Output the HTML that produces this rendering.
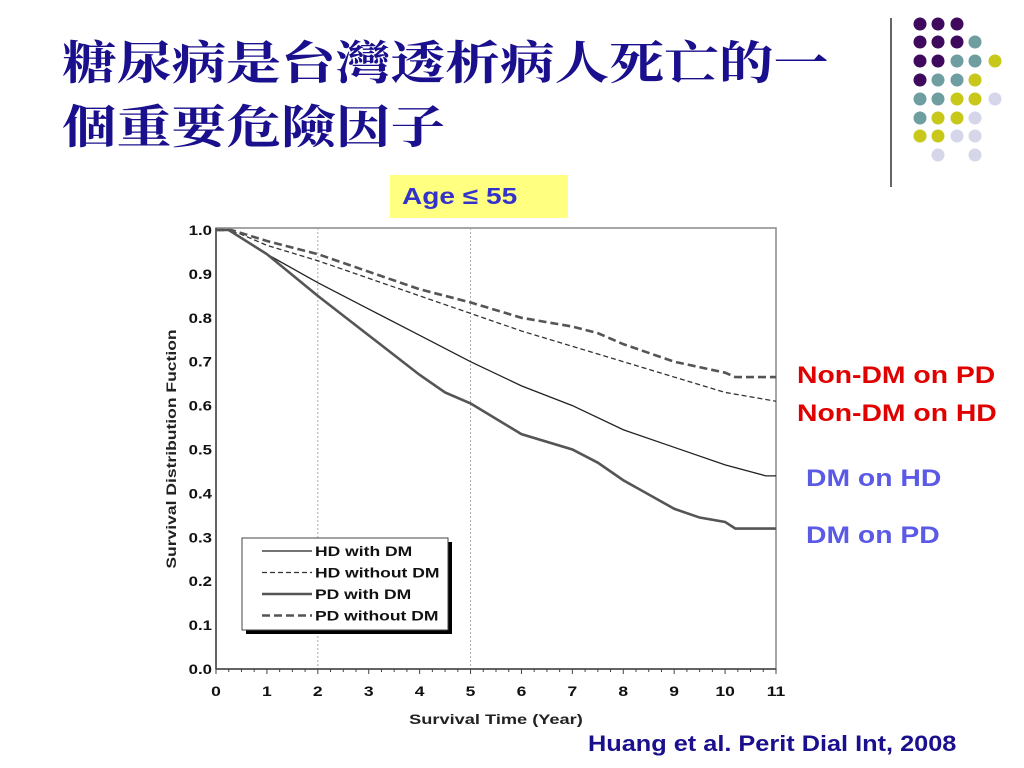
<!DOCTYPE html>
<html><head><meta charset="utf-8"><style>
body{margin:0;width:1024px;height:768px;background:#fff;overflow:hidden;position:relative;font-family:"Liberation Sans","Noto Sans CJK TC",sans-serif}
.t{position:absolute;left:62px;top:32px;font-family:"Liberation Serif","Noto Serif CJK SC",serif;font-size:46px;line-height:64px;color:#1a0f8c;font-weight:bold;transform:scaleX(1.19);transform-origin:0 0;white-space:nowrap}
.lbl{position:absolute;font-weight:bold;font-size:24px;transform:scaleX(1.18);transform-origin:0 0;white-space:nowrap}
</style></head><body>
<div class="t">糖尿病是台灣透析病人死亡的一<br>個重要危險因子</div>
<div style="position:absolute;left:390px;top:175px;width:178px;height:43px;background:#ffff80;"></div>
<div style="position:absolute;left:402px;top:175px;color:#3333cc;font-weight:bold;font-size:23px;line-height:43px;transform:scaleX(1.22);transform-origin:0 0;white-space:nowrap">Age ≤ 55</div>
<div class="lbl" style="left:797px;top:362px;color:#e00000">Non-DM on PD</div>
<div class="lbl" style="left:797px;top:400px;color:#e00000">Non-DM on HD</div>
<div class="lbl" style="left:806px;top:465px;color:#5a5ae6">DM on HD</div>
<div class="lbl" style="left:806px;top:522px;color:#5a5ae6">DM on PD</div>
<div style="position:absolute;left:588px;top:731px;font-weight:bold;font-size:22px;color:#1a0f8c;transform:scaleX(1.15);transform-origin:0 0;white-space:nowrap">Huang et al. Perit Dial Int, 2008</div>
<svg id="deco" width="1024" height="768" style="position:absolute;left:0;top:0">
<line x1="891" y1="18" x2="891" y2="187" stroke="#333" stroke-width="1.5"/>
</svg>
<svg id="chart" width="1024" height="768" style="position:absolute;left:0;top:0"></svg>
<script>
const xTicks=[0,1,2,3,4,5,6,7,8,9,10,11];
const yTicks=[0,0.1,0.2,0.3,0.4,0.5,0.6,0.7,0.8,0.9,1.0];
const hdDmX=[0,0.25,1,2,3,4,5,6,7,8,9,10,10.8,11];
const hdDmY=[1,1,0.945,0.88,0.82,0.76,0.70,0.645,0.60,0.545,0.505,0.465,0.44,0.44];
const hdNoX=[0,0.25,0.5,1,2,3,4,5,6,7,8,9,10,11];
const hdNoY=[1,1,0.99,0.965,0.93,0.89,0.85,0.81,0.77,0.735,0.70,0.665,0.63,0.61];
const pdDmX=[0,0.25,1,2,3,4,4.5,5,6,7,7.5,8,9,9.5,10,10.2,11];
const pdDmY=[1,1,0.945,0.85,0.76,0.67,0.63,0.605,0.535,0.50,0.47,0.43,0.365,0.345,0.335,0.32,0.32];
const pdNoX=[0,0.3,1,2,3,4,5,6,7,7.5,8,9,10,10.2,11];
const pdNoY=[1,1,0.975,0.945,0.905,0.865,0.835,0.80,0.78,0.765,0.74,0.70,0.675,0.665,0.665];
const X0=216,X1=776,Y0=669,Y1=230;
const sx=v=>X0+v*(X1-X0)/11, sy=v=>Y0-v*(Y0-Y1);
const NS='http://www.w3.org/2000/svg', svg=document.getElementById('chart');
function mk(t,a,p){const e=document.createElementNS(NS,t);for(const k in a)e.setAttribute(k,a[k]);(p||svg).appendChild(e);return e;}
function stretch(t,k){const L=t.getComputedTextLength();t.setAttribute('textLength',L*k);t.setAttribute('lengthAdjust','spacingAndGlyphs');}
let e;
e=mk('rect',{x:X0,y:228,width:X1-X0,height:Y0-228,fill:'none',stroke:'#888','stroke-width':1.5});


[2,5].forEach(v=>{e=mk('line',{x1:sx(v),x2:sx(v),y1:228,y2:Y0,stroke:'#aaa','stroke-dasharray':'2,2'});

});
mk('line',{x1:X0,x2:X1,y1:Y0,y2:Y0,stroke:'#444','stroke-width':1.5});
mk('line',{x1:X0,x2:X0,y1:228,y2:Y0,stroke:'#444','stroke-width':1.5});
for(let i=0;i<=44;i++){mk('line',{x1:sx(i/4),x2:sx(i/4),y1:Y0,y2:Y0+(i%4?3:5),stroke:'#444'});}
xTicks.forEach(v=>{e=mk('text',{x:sx(v),y:696,'text-anchor':'middle','font-size':14,'font-weight':'bold',fill:'#111'});e.textContent=v;stretch(e,1.25);

});
yTicks.forEach(v=>{e=mk('text',{x:212,y:sy(v)+5,'text-anchor':'end','font-size':14,'font-weight':'bold',fill:'#111'});e.textContent=v.toFixed(1);stretch(e,1.2);

});
e=mk('text',{x:496,y:724,'text-anchor':'middle','font-size':14,'font-weight':'bold',fill:'#222'});e.textContent='Survival Time (Year)';stretch(e,1.3);


e=mk('text',{x:176,y:449,'text-anchor':'middle','font-size':14,'font-weight':'bold',fill:'#222',transform:'rotate(-90 176 449)'});e.textContent='Survival Distribution Fuction';stretch(e,1.25);


function line(xs,ys,w,col,dash,name){let d='';xs.forEach((x,i)=>{d+=(i?'L':'M')+sx(x)+','+sy(ys[i]);});
const p=mk('path',{d:d,fill:'none',stroke:col,'stroke-width':w,'stroke-dasharray':dash||'none'});

}
line(hdNoX,hdNoY,1.3,'#333','5,3','line-hd-without-dm');
line(pdNoX,pdNoY,2.6,'#555','8,4','line-pd-without-dm');
line(hdDmX,hdDmY,1.3,'#222','','line-hd-with-dm');
line(pdDmX,pdDmY,2.6,'#555','','line-pd-with-dm');
const g=mk('g',{});


mk('rect',{x:246,y:542,width:206,height:92,fill:'#000'},g);
mk('rect',{x:242,y:538,width:206,height:92,fill:'#fff',stroke:'#444'},g);
const legN=['HD with DM','HD without DM','PD with DM','PD without DM'];
const legS=[[1.3,'#222',''],[1.3,'#333','5,3'],[2.6,'#555',''],[2.6,'#555','8,4']];
legN.forEach((n,i)=>{const y=551+i*21.5;
mk('line',{x1:262,x2:312,y1:y,y2:y,stroke:legS[i][1],'stroke-width':legS[i][0],'stroke-dasharray':legS[i][2]||'none'},g);
const t=mk('text',{x:315,y:y+5,'font-size':14,'font-weight':'bold',fill:'#111'},g);t.textContent=n;stretch(t,1.25);

});
const dcols=[920,938,957,975,995],drows=[24,42,61,80,99,118,136,155];
const P='#3f0a5e',T='#6f9ea0',Yc='#c8c81a',L='#d6d6ea';
const grid=[[P,P,P,0,0],[P,P,P,T,0],[P,P,T,T,Yc],[P,T,T,Yc,0],[T,T,Yc,Yc,L],[T,Yc,Yc,L,0],[Yc,Yc,L,L,0],[0,L,0,L,0]];
const deco=document.getElementById('deco');
grid.forEach((r,i)=>r.forEach((c,j)=>{if(c){const d=mk('circle',{cx:dcols[j],cy:drows[i],r:6.5,fill:c},deco);

}}));
</script>
</body></html>
